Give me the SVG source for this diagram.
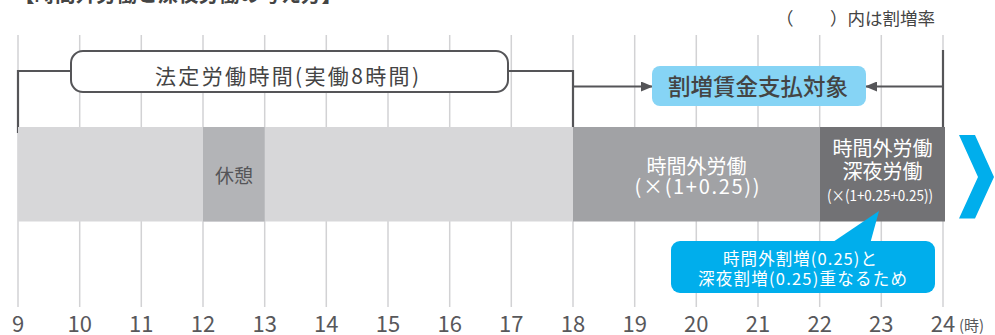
<svg xmlns="http://www.w3.org/2000/svg" width="995" height="335" viewBox="0 0 995 335">
<style>
text{font-family:"Noto Sans CJK JP","Noto Sans",sans-serif;}
.grid{stroke:#d2d2d4;stroke-width:1.5;}
.br{stroke:#555558;stroke-width:2.2;fill:none;}
.ax{font-size:22px;fill:#58585b;text-anchor:middle;}
.w{fill:#ffffff;text-anchor:middle;}
</style>
<defs>
<marker id="ah" viewBox="0 0 12 10" refX="11" refY="5" markerWidth="12" markerHeight="10" markerUnits="userSpaceOnUse" orient="auto">
<path d="M0,0 L12,5 L0,10 Z" fill="#555558"/>
</marker>
</defs>
<text x="14" y="2" font-size="20.5" font-weight="bold" fill="#444">【時間外労働と深夜労働の考え方】</text>
<text font-size="17.5" fill="#444"><tspan x="776" y="25">（</tspan><tspan x="830" y="25">）内は割増率</tspan></text>
<g id="grid">
<line class="grid" x1="18" y1="35" x2="18" y2="307"/>
<line class="grid" x1="79.7" y1="35" x2="79.7" y2="307"/>
<line class="grid" x1="141.3" y1="35" x2="141.3" y2="307"/>
<line class="grid" x1="203" y1="35" x2="203" y2="307"/>
<line class="grid" x1="264.7" y1="35" x2="264.7" y2="307"/>
<line class="grid" x1="326.3" y1="35" x2="326.3" y2="307"/>
<line class="grid" x1="388" y1="35" x2="388" y2="307"/>
<line class="grid" x1="449.7" y1="35" x2="449.7" y2="307"/>
<line class="grid" x1="511.3" y1="35" x2="511.3" y2="307"/>
<line class="grid" x1="573" y1="35" x2="573" y2="307"/>
<line class="grid" x1="634.7" y1="35" x2="634.7" y2="307"/>
<line class="grid" x1="696.3" y1="35" x2="696.3" y2="307"/>
<line class="grid" x1="758" y1="35" x2="758" y2="307"/>
<line class="grid" x1="819.7" y1="35" x2="819.7" y2="307"/>
<line class="grid" x1="881.3" y1="35" x2="881.3" y2="307"/>
<line class="grid" x1="943" y1="35" x2="943" y2="307"/>
</g>
<g id="connectors">
<polyline class="br" points="18,133 18,71 71,71"/>
<polyline class="br" points="508,71 573,71 573,134"/>
<line class="br" x1="573" y1="86.5" x2="652" y2="86.5" marker-end="url(#ah)"/>
<line class="br" x1="943" y1="50" x2="943" y2="127"/>
<line class="br" x1="943" y1="86.5" x2="866" y2="86.5" marker-end="url(#ah)"/>
</g>
<g id="bar-normal"><rect x="18" y="127" width="555" height="94.5" fill="#d7d7d9"/></g>
<g id="break"><rect x="203" y="127" width="61.7" height="94.5" fill="#b3b4b7"/>
<text x="234" y="183" font-size="19" fill="#555558" text-anchor="middle">休憩</text></g>
<g id="overtime"><rect x="573" y="127" width="247" height="94.5" fill="#a1a2a5"/>
<text class="w" x="696.5" y="174" font-size="20">時間外労働</text>
<text class="w" x="697" y="194" font-size="20" textLength="125" lengthAdjust="spacing">(×(1+0.25))</text></g>
<g id="night"><rect x="820" y="127" width="125" height="94.5" fill="#727275"/>
<text class="w" x="882.5" y="156" font-size="20">時間外労働</text>
<text class="w" x="882.5" y="179" font-size="20">深夜労働</text>
<text class="w" x="880" y="201" font-size="15" textLength="106" lengthAdjust="spacingAndGlyphs">(×(1+0.25+0.25))</text></g>
<g id="legal-hours"><rect x="71" y="51" width="437" height="41" rx="12" fill="#ffffff" stroke="#555558" stroke-width="2"/>
<text x="287" y="84" font-size="21" fill="#444" text-anchor="middle" textLength="264" lengthAdjust="spacing">法定労働時間(実働8時間)</text></g>
<g id="premium"><rect x="652" y="66" width="214" height="40" rx="8" fill="#86d4f5"/>
<text x="758" y="95" font-size="22.5" font-weight="500" fill="#444" text-anchor="middle">割増賃金支払対象</text></g>
<g id="note">
<polygon points="879,211 830,244 870,244" fill="#00aeec"/>
<rect x="671" y="241" width="264" height="52" rx="9" fill="#00aeec"/>
<text class="w" x="800" y="265" font-size="16.5" textLength="154" lengthAdjust="spacing">時間外割増(0.25)と</text>
<text class="w" x="802.5" y="285" font-size="16.5" textLength="209" lengthAdjust="spacing">深夜割増(0.25)重なるため</text>
</g>
<g id="chevron"><polygon points="959,135 975,135 994,177 975,218.5 959,218.5 978,177" fill="#00aeec"/></g>
<g id="axis">
<text class="ax" x="18" y="332">9</text>
<text class="ax" x="79.7" y="332">10</text>
<text class="ax" x="141.3" y="332">11</text>
<text class="ax" x="203" y="332">12</text>
<text class="ax" x="264.7" y="332">13</text>
<text class="ax" x="326.3" y="332">14</text>
<text class="ax" x="388" y="332">15</text>
<text class="ax" x="449.7" y="332">16</text>
<text class="ax" x="511.3" y="332">17</text>
<text class="ax" x="573" y="332">18</text>
<text class="ax" x="634.7" y="332">19</text>
<text class="ax" x="696.3" y="332">20</text>
<text class="ax" x="758" y="332">21</text>
<text class="ax" x="819.7" y="332">22</text>
<text class="ax" x="881.3" y="332">23</text>
<text class="ax" x="943" y="332">24</text>
<text x="959" y="331" font-size="15" fill="#58585b">(時)</text>
</g>
</svg>
